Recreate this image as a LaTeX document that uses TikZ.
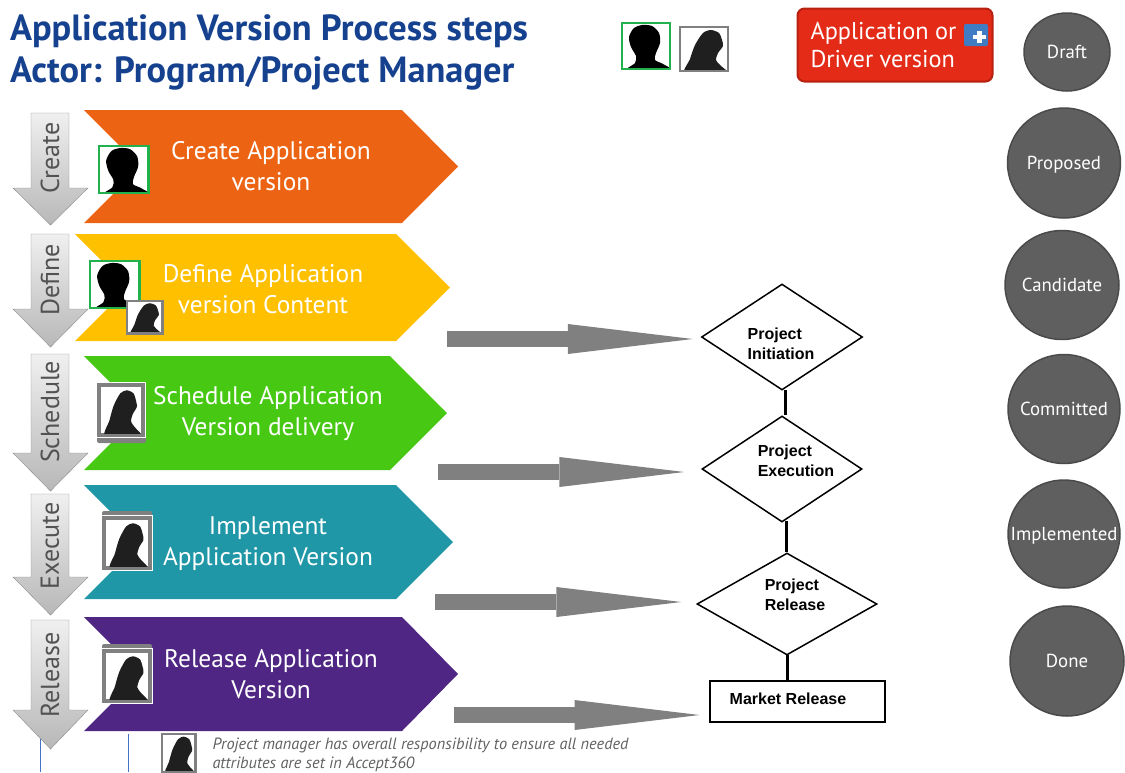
\documentclass[tikz,border=0pt]{standalone}
\usepackage{fontspec}
\setmainfont{PT Sans}
\newfontfamily\boxfont{Liberation Sans}
\usetikzlibrary{shapes.geometric,arrows.meta}

\definecolor{titleblue}{HTML}{15418F}
\definecolor{iconframe}{HTML}{808080}
\definecolor{icongreen}{HTML}{22B14C}
\definecolor{statefill}{HTML}{5F5F5F}
\definecolor{stateline}{HTML}{4A4A4A}
\definecolor{boxred}{HTML}{E32B17}
\definecolor{boxline}{HTML}{B82010}
\definecolor{plusblue}{HTML}{3F7CC4}
\definecolor{rulerblue}{HTML}{4472C4}

\newcommand{\womanpath}{plot[smooth cycle,tension=0.45] coordinates {(5,48) (10,32) (15,18) (23,6) (31,3) (39,6) (42,13) (43,19) (38,26) (36,33) (40,38) (48,48)}}

\tikzset{
	titletext/.style={anchor=west,text=titleblue,font=\fontsize{36.4}{42}\selectfont\bfseries},
	steptext/.style={text=white,align=center,font=\fontsize{25.4}{31}\selectfont},
	stepword/.style={rotate=90,text=black!68,font=\fontsize{26}{26}\selectfont},
	statenode/.style={ellipse,draw=stateline,line width=1.5pt,fill=statefill,text=white,inner sep=0pt,text depth=0pt,font=\fontsize{18.8}{20}\selectfont},
	phasenode/.style={diamond,draw=black,line width=1.5pt,inner sep=0pt},
	phasetext/.style={align=left,font=\boxfont\fontsize{16}{20}\selectfont\bfseries},
	phaseline/.style={draw=black,line width=3pt},
	blockarrow/.style={draw=iconframe,line width=16pt,-{Triangle[length=125pt,width=30pt,line width=0pt]}},
	manicon/.pic={
		\fill[white] (-1,-1) rectangle (49,47);
		\begin{scope}
			\clip (0,0) rectangle (48,46);
			\fill[black] plot[smooth cycle,tension=0.5] coordinates {(5,48) (13,40) (14,33) (9,24) (7,14) (12,5) (20,2) (30,3) (37,10) (38,20) (34,30) (33,37) (41,41) (49,48)};
		\end{scope}
		\draw[icongreen,line width=2.2pt] (0,0) rectangle (48,46);
	},
	womanicon/.pic={
		\fill[white] (0,0) rectangle (48,44);
		\begin{scope}
			\clip (0,0) rectangle (48,44);
			\fill[black!88] \womanpath;
		\end{scope}
		\draw[iconframe,line width=2.6pt] (0,0) rectangle (48,44);
	},
	womanframe/.pic={
		\fill[white] (-1,-1) rectangle (49,55);
		\fill[iconframe] (0,0) rectangle (48,54);
		\fill[white] (4,4) rectangle (44,50);
		\begin{scope}
			\clip (4,4) rectangle (44,50);
			\fill[black!88] [xscale=0.83,yscale=1.04,shift={(5,4)}] \womanpath;
		\end{scope}
	}
}

\begin{document}
\begin{tikzpicture}[x=1pt,y=-1pt]
	\useasboundingbox (0,0) rectangle (1125,772);

	\node[titletext] (titleone) at (6.5,31) {Application Version Process steps};
	\node[titletext] (titletwo) at (6.5,73) {Actor: Program/Project Manager};

	% coloured steps
	\foreach \name/\lft/\tp/\bt/\sh/\tip/\col/\tx/\ty/\word in {
		create/84/110/223/402/458/EC6413/271/166/{Create Application\\version},
		define/75/234/341/396/450/FFC000/263/289/{Define Application\\version Content},
		schedule/84/356/470/390/447/47C914/268/414/{Schedule Application\\Version delivery},
		execute/84/485/599/396/453/1F97A7/268/544/{Implement\\Application Version},
		release/84/617/731/402/458/4F2683/271/674/{Release Application\\Version}}{
		\definecolor{stepcol}{HTML}{\col}
		\pgfmathsetmacro{\mid}{(\tp+\bt)/2}
		\pgfmathsetmacro{\dep}{\lft+(\bt-\tp)/2}
		\fill[stepcol] (\lft,\tp) -- (\sh,\tp) -- (\tip,\mid) -- (\sh,\bt) -- (\lft,\bt) -- (\dep,\mid) -- cycle;
		\node[steptext] (\name text) at (\tx,\ty) {\word};
	}

	% blue lines under the last grey arrow
	\draw[rulerblue] (40,734) -- (40,772);
	\draw[rulerblue] (128,734) -- (128,772);

	% grey arrows on the left
	\foreach \name/\tp/\nk/\tip/\my/\word in {
		create/113/188/225/158/Create,
		define/234/309/347/280/Define,
		schedule/354/453/491/412/Schedule,
		execute/494/577/615/546/Execute,
		release/620/710/749/675/Release}{
		\draw[draw=black!45,top color=black!6,bottom color=black!28] (31,\tp) -- (69,\tp) -- (69,\nk) -- (88,\nk) -- (50.5,\tip) -- (13,\nk) -- (31,\nk) -- cycle;
		\node[stepword] (\name word) at (50,\my) {\word};
	}

	% actors
	\pic at (622,23) {manicon};
	\pic at (680,27) {womanicon};
	\pic[scale=1.03] at (99,146) {manicon};
	\pic[scale=1.03] at (90,261) {manicon};
	\pic[scale=0.74] at (127,301) {womanicon};
	\fill[iconframe,rounded corners=2pt] (97,386) rectangle (146,443);
	\pic at (97,383) {womanframe};
	\fill[iconframe,rounded corners=2pt] (102,511) rectangle (152,560);
	\pic[xscale=1.04] at (102,516) {womanframe};
	\fill[iconframe,rounded corners=2pt] (102,644) rectangle (152,695);
	\pic[xscale=1.04] at (102,649) {womanframe};
	\pic[xscale=0.7,yscale=0.87] at (162,734) {womanicon};

	\node[anchor=north west,align=left,text=black!62,font=\fontsize{16.3}{19.5}\selectfont\itshape] (note) at (209,734) {Project manager has overall responsibility to ensure all needed\\attributes are set in Accept360};

	% version box
	\node[draw=boxline,line width=2pt,fill=boxred,rounded corners=7pt,minimum width=195pt,minimum height=73pt,inner sep=0pt] (versionbox) at (895,45) {};
	\node[anchor=west,align=left,text=white,font=\fontsize{24.3}{28}\selectfont] (versiontext) at (807,45) {Application or\\Driver version};
	\fill[plusblue,rounded corners=2pt] (964,24) rectangle (988,46);
	\fill[white] (973,35) rectangle (986,39);
	\fill[white] (977,31) rectangle (982,43);

	% states
	\node[statenode,minimum width=86pt,minimum height=78pt] (draft) at (1067,52) {Draft};
	\node[statenode,minimum width=113pt,minimum height=110pt] (proposed) at (1064,163) {Proposed};
	\node[statenode,minimum width=114pt,minimum height=109pt] (candidate) at (1062,285) {Candidate};
	\node[statenode,minimum width=112pt,minimum height=109pt] (committed) at (1064,409) {\makebox[0pt]{Committed}};
	\node[statenode,minimum width=112pt,minimum height=108pt] (implemented) at (1064,534) {\makebox[0pt]{Implemented}};
	\node[statenode,minimum width=114pt,minimum height=110pt] (done) at (1067,661) {Done};

	% phases
	\node[phasenode,minimum width=161pt,minimum height=106pt] (initiation) at (782,337) {};
	\node[phasenode,minimum width=160pt,minimum height=106pt] (execution) at (782,469) {};
	\node[phasenode,minimum width=180pt,minimum height=102pt] (releasephase) at (787,604) {};
	\node[draw=black,line width=2pt,minimum width=175pt,minimum height=41pt,inner sep=0pt] (market) at (797,701) {};
	\node[phasetext] (initiationtext) at (781,344) {Project\\Initiation};
	\node[phasetext] (executiontext) at (796,461) {Project\\Execution};
	\node[phasetext] (releasetext) at (795,595) {Project\\Release};
	\node[phasetext] (markettext) at (788,699) {Market Release};

	\draw[phaseline] (785,390) coordinate (ca) -- (ca |- execution.north);
	\draw[phaseline] (786,521) coordinate (cb) -- (cb |- releasephase.north);
	\draw[phaseline] (787,655) coordinate (cc) -- (cc |- market.north);

	% grey arrows into the phases
	\coordinate (tailone) at (447,339);
	\coordinate (tailtwo) at (438,472);
	\coordinate (tailthree) at (435,602);
	\coordinate (tailfour) at (454,715);
	\draw[blockarrow,shorten >=8pt] (tailone) -- (tailone -| initiation.west);
	\draw[blockarrow,shorten >=17pt] (tailtwo) -- (tailtwo -| execution.west);
	\draw[blockarrow,shorten >=15pt] (tailthree) -- (tailthree -| releasephase.west);
	\draw[blockarrow,shorten >=9pt] (tailfour) -- (tailfour -| market.west);
\end{tikzpicture}
\end{document}
